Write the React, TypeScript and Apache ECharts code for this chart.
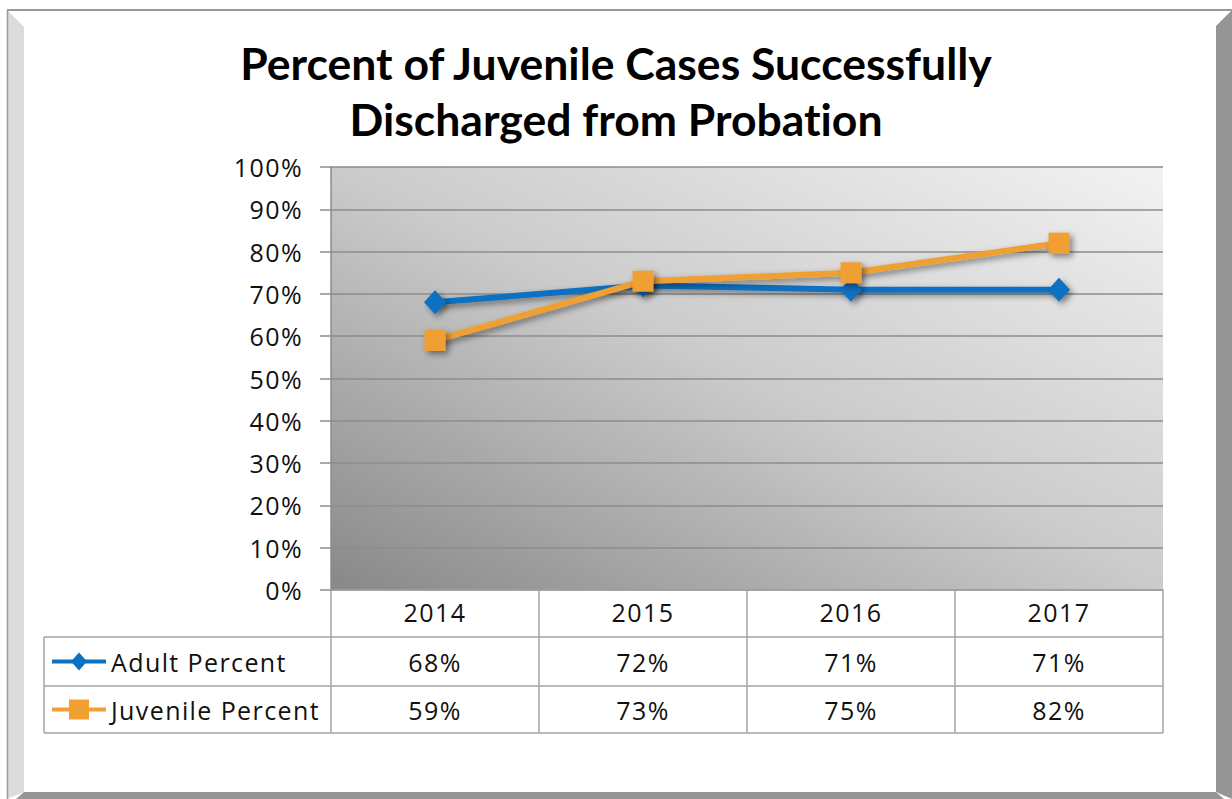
import React, { useEffect, useRef } from "react";
import * as echarts from "echarts";

const titleLines = ["Percent of Juvenile Cases Successfully", "Discharged from Probation"];
const categories = ["2014", "2015", "2016", "2017"];
const seriesNames = ["Adult Percent", "Juvenile Percent"];
const adultValues = [68, 72, 71, 71];
const juvenileValues = [59, 73, 75, 82];
const yTicks = { min: 0, max: 100, interval: 10 };

const BLUE = "#0a70c0";
const ORANGE = "#f0a030";
const TITLE_FONT = "Lato, 'Noto Sans', sans-serif";
const FONT = "'Open Sans', 'Noto Sans', sans-serif";

export default function App() {
  const ref = useRef<HTMLDivElement>(null);
  useEffect(() => {
    if (!ref.current) return;
    const chart = echarts.init(ref.current, undefined, { renderer: "svg" });
    const W = 1232, H = 799;
    const gridL = 331, gridT = 167, gridR = 1163, gridB = 590;
    const gridW = gridR - gridL, gridH = gridB - gridT;
    const colW = gridW / categories.length;
    const tableLeft = 44;
    const rowY = [590, 637, 686, 733];
    const lineColor = "#a3a3a3";
    const fs = 25;

    const graphics: any[] = [];
    graphics.push({ type: "rect", z: -10, shape: { x: 0, y: 0, width: W, height: H }, style: { fill: "#ffffff" } });
    graphics.push({ type: "polygon", z: 100, shape: { points: [[7, 10], [24, 27], [24, 792], [7, 799]] }, style: { fill: "#dcdcdc" } });
    graphics.push({ type: "polygon", z: 100, shape: { points: [[1232, 10], [1216, 26], [1216, 792], [1232, 799]] }, style: { fill: "#959595" } });
    graphics.push({ type: "polygon", z: 100, shape: { points: [[16, 799], [24, 792], [1216, 792], [1224, 799]] }, style: { fill: "#959595" } });
    graphics.push({ type: "line", z: 101, shape: { x1: 7, y1: 10, x2: 1232, y2: 10 }, style: { stroke: "#9a9a9a", lineWidth: 2 } });
    graphics.push({ type: "line", z: 101, shape: { x1: 7.5, y1: 10, x2: 7.5, y2: 799 }, style: { stroke: "#9a9a9a", lineWidth: 1.5 } });

    for (let i = 1; i < rowY.length; i++) {
      graphics.push({ type: "line", z: 5, shape: { x1: tableLeft, y1: rowY[i], x2: gridR, y2: rowY[i] }, style: { stroke: lineColor, lineWidth: 1.5 } });
    }
    graphics.push({ type: "line", z: 5, shape: { x1: tableLeft, y1: rowY[1], x2: tableLeft, y2: rowY[3] }, style: { stroke: lineColor, lineWidth: 1.5 } });
    for (let c = 0; c <= categories.length; c++) {
      const x = gridL + c * colW;
      graphics.push({ type: "line", z: 5, shape: { x1: x, y1: rowY[0], x2: x, y2: rowY[3] }, style: { stroke: lineColor, lineWidth: 1.5 } });
    }
    const rows = [adultValues, juvenileValues];
    const colors = [BLUE, ORANGE];
    rows.forEach((vals, r) => {
      const cy = (rowY[r + 1] + rowY[r + 2]) / 2;
      vals.forEach((v, c) => {
        graphics.push({
          type: "text", z: 6,
          x: gridL + (c + 0.5) * colW, y: cy,
          style: { text: v + "%", fontSize: fs, fontFamily: FONT, fill: "#111", align: "center", verticalAlign: "middle" },
        });
      });
      graphics.push({ type: "line", z: 6, shape: { x1: 52, y1: cy, x2: 106, y2: cy }, style: { stroke: colors[r], lineWidth: 4 } });
      if (r === 0) {
        graphics.push({ type: "polygon", z: 7, shape: { points: [[79, cy - 9], [87, cy], [79, cy + 9], [71, cy]] }, style: { fill: BLUE } });
      } else {
        graphics.push({ type: "rect", z: 7, shape: { x: 69, y: cy - 10, width: 20, height: 20 }, style: { fill: ORANGE } });
      }
      graphics.push({
        type: "text", z: 6, x: 111, y: cy,
        style: { text: seriesNames[r], fontSize: fs, fontFamily: FONT, fill: "#111", align: "left", verticalAlign: "middle" },
      });
    });

    const shadow = { shadowColor: "rgba(0,0,0,0.45)", shadowBlur: 6, shadowOffsetX: 3, shadowOffsetY: 3 };

    chart.setOption({
      animation: false,
      backgroundColor: "#ffffff",
      title: {
        text: titleLines.join("\n"),
        left: "center",
        top: 29,
        padding: [5, 5, 5, 13],
        textStyle: { fontSize: 44.5, fontWeight: "bold", fontFamily: TITLE_FONT, color: "#000", lineHeight: 56 },
      },
      grid: {
        left: gridL, top: gridT, width: gridW, height: gridH,
        show: true, borderWidth: 0,
        backgroundColor: new echarts.graphic.LinearGradient(0, 1, 1, 0, [
          { offset: 0, color: "#888888" },
          { offset: 0.5, color: "#cbcbcb" },
          { offset: 1, color: "#f2f2f2" },
        ]),
      },
      xAxis: {
        type: "category",
        data: categories,
        boundaryGap: true,
        axisLine: { show: true, lineStyle: { color: lineColor, width: 1.5 } },
        axisTick: { show: false },
        axisLabel: { fontSize: fs, fontFamily: FONT, color: "#111", margin: 9 },
        splitLine: { show: false },
      },
      yAxis: {
        type: "value",
        min: yTicks.min, max: yTicks.max, interval: yTicks.interval,
        axisLine: { show: true, lineStyle: { color: "#8c8c8c", width: 1.5 } },
        axisTick: { show: true, length: 11, lineStyle: { color: "#8c8c8c", width: 1.5 } },
        axisLabel: { formatter: "{value}%", fontSize: fs, fontFamily: FONT, color: "#111", margin: 28 },
        splitLine: { show: true, lineStyle: { color: "#8c8c8c", width: 1.5 } },
      },
      series: [
        {
          name: seriesNames[0], type: "line", data: adultValues,
          symbol: "diamond", symbolSize: [22, 24],
          lineStyle: { color: BLUE, width: 6, ...shadow },
          itemStyle: { color: BLUE, ...shadow },
          z: 3,
        },
        {
          name: seriesNames[1], type: "line", data: juvenileValues,
          symbol: "rect", symbolSize: 21,
          lineStyle: { color: ORANGE, width: 6, ...shadow },
          itemStyle: { color: ORANGE, ...shadow },
          z: 4,
        },
      ],
      graphic: graphics,
    });
    return () => chart.dispose();
  }, []);
  const css =
    "svg text{font-variant-ligatures:none !important;font-feature-settings:'liga' 0 !important;}" +
    "svg text[style*='25px']{letter-spacing:1.4px !important;}";
  return (
    <>
      <style>{css}</style>
      <div ref={ref} style={{ position: "fixed", left: 0, top: 0, width: 1232, height: 799 }} />
    </>
  );
}
